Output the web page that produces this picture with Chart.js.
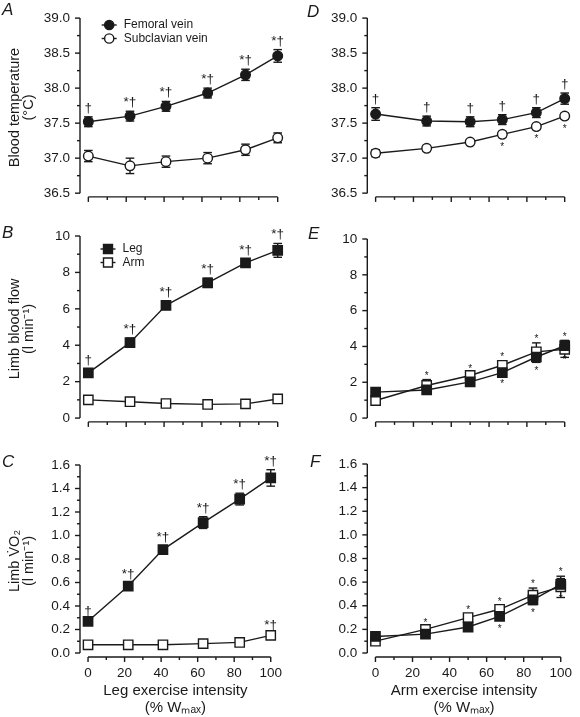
<!DOCTYPE html>
<html>
<head>
<meta charset="utf-8">
<script src="https://cdn.jsdelivr.net/npm/chart.js@4.4.1/dist/chart.umd.min.js"></script>
<style>
  html, body { margin: 0; padding: 0; background: #fff; }
  #wrap { position: relative; width: 580px; height: 717px; overflow: hidden; }
  canvas { position: absolute; }
</style>
</head>
<body>
<div id="wrap">
  <canvas id="panelA" width="290" height="215" style="left:0px;top:0px"></canvas>
  <canvas id="panelD" width="290" height="215" style="left:290px;top:0px"></canvas>
  <canvas id="panelB" width="290" height="225" style="left:0px;top:215px"></canvas>
  <canvas id="panelE" width="290" height="225" style="left:290px;top:215px"></canvas>
  <canvas id="panelC" width="290" height="277" style="left:0px;top:440px"></canvas>
  <canvas id="panelF" width="290" height="277" style="left:290px;top:440px"></canvas>
</div>
<script>
const FONT = '"Liberation Sans", Arial, Helvetica, sans-serif';
const INK = '#1a1a1a';

// exercise intensity (% Wmax) of each stage
const legIntensity = [0, 22, 41, 63, 83, 100];
const armIntensity = [0, 27, 50, 67, 85, 100];

// axis ticks
const xMajor = [0, 20, 40, 60, 80, 100];
const xMinor = [10, 30, 50, 70, 90];
const xLabels = ['0', '20', '40', '60', '80', '100'];

const tempMajor = [36.5, 37.0, 37.5, 38.0, 38.5, 39.0];
const tempMinor = [36.75, 37.25, 37.75, 38.25, 38.75];
const tempLabels = ['36.5', '37.0', '37.5', '38.0', '38.5', '39.0'];

const flowMajor = [0, 2, 4, 6, 8, 10];
const flowMinor = [1, 3, 5, 7, 9];
const flowLabels = ['0', '2', '4', '6', '8', '10'];

const vo2Major = [0, 0.2, 0.4, 0.6, 0.8, 1.0, 1.2, 1.4, 1.6];
const vo2Minor = [0.1, 0.3, 0.5, 0.7, 0.9, 1.1, 1.3, 1.5];
const vo2Labels = ['0.0', '0.2', '0.4', '0.6', '0.8', '1.0', '1.2', '1.4', '1.6'];

// A: blood temperature during leg exercise
const femoralTempLeg = [37.52, 37.60, 37.74, 37.93, 38.19, 38.46];
const femoralTempLegErr = [0.07, 0.07, 0.07, 0.07, 0.08, 0.09];
const subclavianTempLeg = [37.03, 36.89, 36.95, 37.00, 37.12, 37.29];
const subclavianTempLegErr = [0.08, 0.11, 0.08, 0.08, 0.08, 0.07];

// D: blood temperature during arm exercise
const femoralTempArm = [37.63, 37.53, 37.52, 37.55, 37.65, 37.85];
const femoralTempArmErr = [0.09, 0.07, 0.07, 0.07, 0.07, 0.08];
const subclavianTempArm = [37.07, 37.14, 37.23, 37.34, 37.45, 37.60];
const subclavianTempArmErr = [0.05, 0.04, 0.03, 0.04, 0.04, 0.04];

// B: limb blood flow during leg exercise
const legFlowLeg = [2.48, 4.14, 6.19, 7.43, 8.53, 9.21];
const legFlowLegErr = [0.2, 0.25, 0.22, 0.25, 0.22, 0.38];
const armFlowLeg = [1.0, 0.9, 0.8, 0.75, 0.78, 1.05];
const armFlowLegErr = [0.06, 0.05, 0.05, 0.05, 0.05, 0.06];

// E: limb blood flow during arm exercise
const legFlowArm = [1.45, 1.57, 2.02, 2.54, 3.41, 4.04];
const legFlowArmErr = [0.08, 0.1, 0.1, 0.15, 0.3, 0.3];
const armFlowArm = [0.98, 1.82, 2.38, 2.95, 3.70, 3.84];
const armFlowArmErr = [0.1, 0.33, 0.15, 0.25, 0.5, 0.45];

// C: limb VO2 during leg exercise
const legVo2Leg = [0.27, 0.57, 0.88, 1.11, 1.31, 1.49];
const legVo2LegErr = [0.015, 0.03, 0.03, 0.05, 0.05, 0.07];
const armVo2Leg = [0.07, 0.07, 0.07, 0.08, 0.09, 0.15];
const armVo2LegErr = [0.01, 0.01, 0.01, 0.01, 0.01, 0.015];

// F: limb VO2 during arm exercise
const legVo2Arm = [0.14, 0.16, 0.22, 0.31, 0.45, 0.58];
const legVo2ArmErr = [0.02, 0.02, 0.02, 0.03, 0.04, 0.05];
const armVo2Arm = [0.10, 0.20, 0.30, 0.37, 0.49, 0.56];
const armVo2ArmErr = [0.02, 0.02, 0.03, 0.03, 0.06, 0.09];

// significance marks
const legExMarks = ['\u2020', '*\u2020', '*\u2020', '*\u2020', '*\u2020', '*\u2020'];
const daggerOnly = ['\u2020', '\u2020', '\u2020', '\u2020', '\u2020', '\u2020'];
const lastOnly = ['', '', '', '', '', '*\u2020'];
const starAbove = ['', '*', '*', '*', '*', '*'];
const starBelow = ['', '', '', '*', '*', '*'];

const X_MIN = -4.4;   // small gap between the y axis and x = 0
const AXIS_GAP = 4;   // px between lowest y tick and the detached x axis
const LW = 1.4;

function line(ctx, x1, y1, x2, y2) {
  ctx.beginPath(); ctx.moveTo(x1, y1); ctx.lineTo(x2, y2); ctx.stroke();
}

function drawMarker(ctx, x, y, marker, filled) {
  ctx.beginPath();
  if (marker === 'rect') ctx.rect(x - 4.5, y - 4.5, 9, 9);
  else ctx.arc(x, y, 4.6, 0, Math.PI * 2);
  ctx.fillStyle = filled ? INK : '#fff';
  ctx.fill(); ctx.stroke();
}

function decor(cfg) {
  return {
    id: 'decor',
    beforeDatasetsDraw(chart) {
      const {ctx} = chart, xs = chart.scales.x, ys = chart.scales.y;
      ctx.save();
      ctx.strokeStyle = INK; ctx.lineWidth = LW;
      cfg.series.forEach(s => {
        cfg.x.forEach((xv, i) => {
          const px = xs.getPixelForValue(xv);
          const t = ys.getPixelForValue(s.values[i] + s.errors[i]);
          const b = ys.getPixelForValue(s.values[i] - s.errors[i]);
          line(ctx, px, t, px, b);
          line(ctx, px - 4.3, t, px + 4.3, t);
          line(ctx, px - 4.3, b, px + 4.3, b);
        });
      });
      ctx.restore();
    },
    afterDraw(chart) {
      const {ctx} = chart, xs = chart.scales.x, ys = chart.scales.y;
      const left = chart.chartArea.left, bottom = chart.chartArea.bottom;
      ctx.save();
      ctx.strokeStyle = INK; ctx.lineWidth = LW;
      // y axis
      const yTop = ys.getPixelForValue(cfg.yMajor[cfg.yMajor.length - 1]);
      const yBot = ys.getPixelForValue(cfg.yMajor[0]);
      line(ctx, left, yTop, left, yBot);
      cfg.yMajor.forEach(v => { const p = ys.getPixelForValue(v); line(ctx, left - 5, p, left, p); });
      cfg.yMinor.forEach(v => { const p = ys.getPixelForValue(v); line(ctx, left - 3, p, left, p); });
      // x axis, detached
      line(ctx, xs.getPixelForValue(xMajor[0]), bottom, xs.getPixelForValue(xMajor[xMajor.length - 1]), bottom);
      xMajor.forEach(v => { const p = xs.getPixelForValue(v); line(ctx, p, bottom, p, bottom + 5); });
      xMinor.forEach(v => { const p = xs.getPixelForValue(v); line(ctx, p, bottom, p, bottom + 3); });

      // significance marks
      ctx.fillStyle = INK;
      ctx.textAlign = 'center';
      cfg.marks.forEach(m => {
        const s = cfg.series[m.series];
        ctx.font = m.size + 'px ' + FONT;
        m.labels.forEach((txt, i) => {
          if (!txt) return;
          const px = xs.getPixelForValue(cfg.x[i]);
          if (m.side === 'above') {
            ctx.textBaseline = 'alphabetic';
            const t = ys.getPixelForValue(s.values[i] + s.errors[i]);
            ctx.fillText(txt, px, t - m.offset);
          } else {
            ctx.textBaseline = 'top';
            const b = ys.getPixelForValue(s.values[i] - s.errors[i]);
            ctx.fillText(txt, px, b + m.offset);
          }
        });
      });

      // legend
      if (cfg.legend) {
        ctx.font = '12px ' + FONT;
        ctx.textAlign = 'left'; ctx.textBaseline = 'middle';
        cfg.legend.rows.forEach((ry, k) => {
          const s = cfg.series[k];
          const lx = cfg.legend.x;
          line(ctx, lx, ry, lx + 15, ry);
          drawMarker(ctx, lx + 7.5, ry, s.marker, s.filled);
          ctx.fillStyle = INK;
          ctx.fillText(s.label, lx + 22, ry);
        });
      }

      // panel letter
      ctx.font = 'italic 17px ' + FONT;
      ctx.textAlign = 'left'; ctx.textBaseline = 'top';
      ctx.fillStyle = INK;
      ctx.fillText(cfg.letter, cfg.letterPos[0], cfg.letterPos[1]);
      ctx.restore();
    }
  };
}

function makePanel(cfg) {
  const right = cfg.col === 1;
  const lo = cfg.yMajor[0], hi = cfg.yMajor[cfg.yMajor.length - 1];
  const h = cfg.axisY - cfg.top;
  const yMin = lo - AXIS_GAP * (hi - lo) / (h - AXIS_GAP);
  const canvas = document.getElementById(cfg.id);
  const datasets = cfg.series.map(s => ({
    label: s.label,
    data: cfg.x.map((xv, i) => ({x: xv, y: s.values[i]})),
    borderColor: INK,
    borderWidth: LW,
    pointStyle: s.marker,
    pointRadius: s.marker === 'rect' ? 6.6 : 4.8,
    pointBackgroundColor: s.filled ? INK : '#fff',
    pointBorderColor: INK,
    pointBorderWidth: LW,
    tension: 0,
    clip: false
  }));
  return new Chart(canvas, {
    type: 'line',
    data: {datasets},
    options: {
      responsive: false,
      animation: false,
      events: [],
      layout: {padding: {left: 0, right: right ? 15.3 : 12.3, top: cfg.top, bottom: 0}},
      plugins: {legend: {display: false}, tooltip: {enabled: false}},
      scales: {
        x: {
          type: 'linear', min: X_MIN, max: 100,
          afterBuildTicks: sc => { sc.ticks = xMajor.map(v => ({value: v})); },
          afterFit: sc => { sc.height = canvas.height - cfg.axisY; },
          grid: {display: false, drawTicks: false},
          border: {display: false},
          ticks: {
            display: !!cfg.xTitle, autoSkip: false, maxRotation: 0, padding: 8,
            color: INK, font: {family: FONT, size: 13.5},
            callback: (v, i) => xLabels[i]
          },
          title: {
            display: !!cfg.xTitle, text: cfg.xTitle || '', color: INK,
            font: {family: FONT, size: 15, lineHeight: 1.1},
            padding: {top: 0, bottom: 1}
          }
        },
        y: {
          type: 'linear', min: yMin, max: hi,
          afterBuildTicks: sc => { sc.ticks = cfg.yMajor.map(v => ({value: v})); },
          afterFit: sc => { sc.width = right ? 77.3 : 80; },
          grid: {display: false, drawTicks: false},
          border: {display: false},
          ticks: {
            padding: 10, color: INK, font: {family: FONT, size: 13.5},
            callback: (v, i) => cfg.yLabels[i]
          },
          title: {
            display: !!cfg.yTitle, text: cfg.yTitle || '', color: INK,
            font: {family: FONT, size: 14.5, lineHeight: 1.0},
            padding: {top: 7.5, bottom: 0}
          }
        }
      }
    },
    plugins: [decor(cfg)]
  });
}

const xTitleLeg = ['Leg exercise intensity', '(% W\u2098\u2090\u2093)'];
const xTitleArm = ['Arm exercise intensity', '(% W\u2098\u2090\u2093)'];

makePanel({
  id: 'panelA', col: 0, letter: 'A', letterPos: [2, 2], top: 12, axisY: 204,
  x: legIntensity, yMajor: tempMajor, yMinor: tempMinor, yLabels: tempLabels,
  yTitle: ['Blood temperature', '(\u00B0C)'],
  series: [
    {label: 'Femoral vein', values: femoralTempLeg, errors: femoralTempLegErr, marker: 'circle', filled: true},
    {label: 'Subclavian vein', values: subclavianTempLeg, errors: subclavianTempLegErr, marker: 'circle', filled: false}
  ],
  legend: {x: 101.7, rows: [25, 38.5]},
  marks: [{series: 0, side: 'above', labels: legExMarks, size: 13.5, offset: 5}]
});

makePanel({
  id: 'panelD', col: 1, letter: 'D', letterPos: [17, 4], top: 14, axisY: 204,
  x: armIntensity, yMajor: tempMajor, yMinor: tempMinor, yLabels: tempLabels,
  series: [
    {label: 'Femoral vein', values: femoralTempArm, errors: femoralTempArmErr, marker: 'circle', filled: true},
    {label: 'Subclavian vein', values: subclavianTempArm, errors: subclavianTempArmErr, marker: 'circle', filled: false}
  ],
  marks: [
    {series: 0, side: 'above', labels: daggerOnly, size: 13.5, offset: 5},
    {series: 1, side: 'below', labels: starBelow, size: 10, offset: 5}
  ]
});

makePanel({
  id: 'panelB', col: 0, letter: 'B', letterPos: [2, 10], top: 21, axisY: 215,
  x: legIntensity, yMajor: flowMajor, yMinor: flowMinor, yLabels: flowLabels,
  yTitle: ['Limb blood flow', '(l min\u207B\u00B9)'],
  series: [
    {label: 'Leg', values: legFlowLeg, errors: legFlowLegErr, marker: 'rect', filled: true},
    {label: 'Arm', values: armFlowLeg, errors: armFlowLegErr, marker: 'rect', filled: false}
  ],
  legend: {x: 100.5, rows: [34, 47.5]},
  marks: [{series: 0, side: 'above', labels: legExMarks, size: 13.5, offset: 5}]
});

makePanel({
  id: 'panelE', col: 1, letter: 'E', letterPos: [18, 11], top: 24, axisY: 215,
  x: armIntensity, yMajor: flowMajor, yMinor: flowMinor, yLabels: flowLabels,
  series: [
    {label: 'Leg', values: legFlowArm, errors: legFlowArmErr, marker: 'rect', filled: true},
    {label: 'Arm', values: armFlowArm, errors: armFlowArmErr, marker: 'rect', filled: false}
  ],
  marks: [
    {series: 1, side: 'above', labels: starAbove, size: 10, offset: 1},
    {series: 0, side: 'below', labels: starBelow, size: 10, offset: 4}
  ]
});

makePanel({
  id: 'panelC', col: 0, letter: 'C', letterPos: [2, 14], top: 25, axisY: 217,
  x: legIntensity, yMajor: vo2Major, yMinor: vo2Minor, yLabels: vo2Labels,
  yTitle: ['Limb V\u0307O\u2082', '(l min\u207B\u00B9)'],
  xTitle: xTitleLeg,
  series: [
    {label: 'Leg', values: legVo2Leg, errors: legVo2LegErr, marker: 'rect', filled: true},
    {label: 'Arm', values: armVo2Leg, errors: armVo2LegErr, marker: 'rect', filled: false}
  ],
  marks: [
    {series: 0, side: 'above', labels: legExMarks, size: 13.5, offset: 5},
    {series: 1, side: 'above', labels: lastOnly, size: 13.5, offset: 5}
  ]
});

makePanel({
  id: 'panelF', col: 1, letter: 'F', letterPos: [20, 14], top: 24, axisY: 217,
  x: armIntensity, yMajor: vo2Major, yMinor: vo2Minor, yLabels: vo2Labels,
  xTitle: xTitleArm,
  series: [
    {label: 'Leg', values: legVo2Arm, errors: legVo2ArmErr, marker: 'rect', filled: true},
    {label: 'Arm', values: armVo2Arm, errors: armVo2ArmErr, marker: 'rect', filled: false}
  ],
  marks: [
    {series: 1, side: 'above', labels: starAbove, size: 10, offset: 1},
    {series: 0, side: 'below', labels: starBelow, size: 10, offset: 4}
  ]
});
</script>
</body>
</html>
